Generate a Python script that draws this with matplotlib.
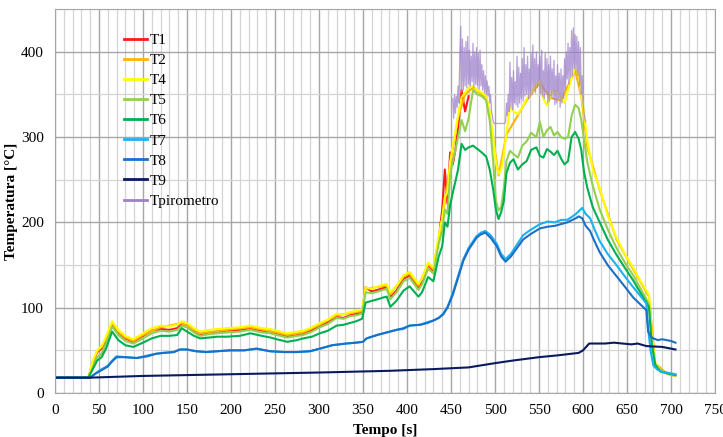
import matplotlib
matplotlib.use("Agg")
import matplotlib.pyplot as plt
from matplotlib.ticker import MultipleLocator

plt.rcParams["font.family"] = ["Liberation Serif", "DejaVu Serif"]

# Shared sampling times [s] for the hot-side thermocouples
t_hot = [0, 38, 43, 48, 53, 58, 65, 72, 80, 89, 100, 110, 120, 130, 139, 144, 150, 158, 165, 175,
         184, 195, 210, 222, 235, 245, 252, 264, 275, 282, 292, 301, 310, 320, 328, 335, 342, 349, 353, 360,
         367, 373, 377, 381, 388, 396, 403, 413, 417, 424, 430, 436, 440, 443, 446, 449, 452, 455, 458, 462,
         466, 470, 475, 480, 485, 490, 494, 498, 501, 504, 507, 510, 513, 517, 521, 526, 531, 536, 541, 547,
         551, 555, 559, 563, 567, 571, 575, 579, 583, 587, 591, 595, 598, 601, 605, 611, 619, 628, 638, 648,
         657, 665, 672, 675, 678, 682, 688, 696, 705]

T4 = [18, 18, 38, 50, 55, 66, 84, 74, 67, 63, 70, 76, 79, 78, 80, 84, 82, 76, 72, 74,
      75, 76, 77, 79, 76, 75, 73, 70, 72, 73, 77, 82, 86, 93, 92, 95, 96, 98, 124, 122,
      125, 127, 128, 118, 125, 138, 142, 128, 134, 153, 147, 185, 205, 230, 235, 270, 290, 306, 325, 347,
      352, 358, 360, 355, 352, 348, 330, 300, 270, 257, 262, 280, 305, 335, 330, 327, 335, 345, 352, 362,
      366, 345, 337, 348, 355, 352, 345, 340, 355, 370, 380, 375, 350, 330, 295, 262, 240, 208, 182, 162,
      147, 132, 120, 115, 66, 36, 26, 23, 21]

T5 = [18, 18, 30, 42, 46, 58, 78, 68, 61, 58, 64, 70, 73, 72, 74, 79, 77, 71, 67, 69,
      70, 71, 72, 74, 71, 70, 68, 65, 67, 68, 72, 77, 81, 88, 87, 90, 91, 93, 118, 117,
      119, 121, 122, 110, 118, 131, 135, 121, 127, 146, 140, 175, 190, 215, 210, 255, 272, 285, 300, 320,
      307, 322, 355, 350, 348, 343, 320, 270, 225, 214, 218, 240, 272, 284, 280, 276, 290, 295, 305, 300,
      318, 300, 308, 312, 302, 306, 300, 298, 300, 325, 338, 334, 320, 298, 270, 243, 215, 192, 170, 152,
      138, 123, 110, 104, 60, 34, 26, 23, 21]

T6 = [18, 18, 28, 38, 42, 52, 72, 62, 56, 54, 59, 64, 67, 67, 68, 76, 72, 67, 64, 65,
      66, 66, 67, 70, 67, 65, 63, 60, 62, 64, 66, 70, 73, 79, 80, 82, 84, 87, 106, 108,
      110, 112, 113, 101, 108, 120, 125, 113, 118, 136, 131, 160, 172, 200, 195, 220, 235, 248, 262, 292,
      285, 288, 290, 286, 282, 277, 262, 238, 215, 204, 212, 225, 258, 270, 274, 262, 268, 272, 285, 288,
      278, 276, 286, 283, 279, 284, 275, 268, 272, 300, 306, 298, 285, 260, 240, 218, 200, 180, 162, 146,
      132, 118, 106, 100, 58, 33, 25, 23, 21]

# T1 stops recording at 470 s
t_t1 = t_hot[:62]
T1 = [18, 18, 36, 48, 52, 62, 80, 71, 64, 60, 67, 73, 75, 74, 76, 81, 79, 73, 68, 71,
      72, 73, 74, 76, 73, 72, 69, 66, 68, 69, 74, 78, 83, 89, 88, 91, 93, 95, 124, 119,
      121, 123, 124, 112, 120, 134, 138, 124, 130, 150, 143, 180, 215, 262, 222, 282, 268, 285, 310, 355,
      330, 348]

t_t2 = [0, 38, 43, 48, 53, 58, 65, 72, 80, 89, 100, 120, 144, 165, 195, 222, 252, 264, 282, 301,
        320, 349, 353, 377, 381, 396, 403, 413, 424, 430, 440, 449, 458, 466, 475, 490, 498, 504, 513, 536,
        551, 563, 575, 591, 598, 605, 619, 638, 657, 672, 675, 682, 696, 705]
T2 = [18, 18, 37, 49, 54, 64, 82, 72, 65, 61, 68, 77, 82, 70, 74, 77, 71, 68, 71, 80,
      91, 96, 122, 126, 116, 136, 140, 126, 151, 145, 203, 268, 323, 350, 358, 346, 298, 255, 303, 343,
      364, 346, 343, 378, 348, 288, 238, 180, 145, 118, 113, 35, 22, 20]

# Cold-side thermocouples
t_cold = [0, 40, 45, 50, 55, 60, 65, 70, 80, 93, 105, 115, 123, 135, 142, 150, 160, 172, 185, 199,
          215, 229, 244, 260, 275, 290, 301, 315, 331, 342, 350, 354, 366, 377, 388, 396, 403, 415, 423, 430,
          436, 441, 446, 452, 458, 464, 470, 479, 484, 489, 495, 502, 507, 512, 518, 525, 532, 540, 551, 560,
          568, 575, 582, 588, 592, 595, 599, 603, 608, 613, 619, 628, 638, 648, 657, 665, 672, 674, 677, 680,
          685, 690, 695, 700, 705]

T7 = [18, 18, 22, 26, 29, 32, 38, 43, 42, 41, 44, 46, 47, 48, 51, 51, 49, 48, 49, 50,
      50, 52, 49, 48, 48, 49, 52, 56, 58, 59, 60, 64, 68, 71, 74, 75, 79, 80, 83, 85,
      88, 93, 101, 117, 137, 157, 170, 184, 188, 190, 185, 175, 163, 157, 163, 174, 185, 191, 198, 201,
      200, 203, 203, 207, 210, 213, 217, 210, 205, 192, 178, 163, 150, 136, 124, 114, 105, 75, 48, 32,
      27, 25, 24, 23, 22]

T8 = [18, 18, 22, 25, 28, 31, 37, 42, 42, 41, 43, 46, 47, 48, 51, 51, 49, 48, 49, 50,
      50, 52, 49, 48, 48, 49, 52, 56, 58, 59, 60, 64, 68, 71, 74, 76, 79, 80, 82, 85,
      88, 92, 100, 115, 135, 155, 168, 182, 186, 188, 182, 172, 160, 154, 160, 170, 180, 186, 193, 195,
      196, 198, 200, 203, 205, 207, 205, 196, 190, 178, 165, 150, 137, 124, 112, 104, 97, 72, 66, 64,
      62, 63, 62, 61, 59]

t_t9 = [0, 40, 100, 200, 300, 380, 430, 470, 500, 520, 550, 570, 595, 600, 607, 615, 625, 635, 645, 655,
        662, 672, 690, 705]
T9 = [18, 18, 20, 22, 24, 26, 28, 30, 35, 38, 42, 44, 47, 50, 58, 58, 58, 59, 58, 57,
      58, 55, 54, 51]

# Pyrometer reading, one sample per second (452 s to 603 s)
t_pyro = list(range(452, 604))
Tpiro = [345, 322, 350, 328, 348, 335, 360, 340, 395,
         430, 352, 415, 355, 405, 360, 412, 358, 418, 362,
         402, 360, 395, 365, 410, 358, 400, 362, 405, 360,
         398, 356, 402, 360, 385, 355, 378, 352, 372, 350,
         366, 348, 360, 340, 350, 330, 325, 318, 316, 316,
         316, 316, 316, 316, 316, 316, 316, 316, 316, 316,
         316, 318, 340, 325, 350, 330, 388, 335, 370, 332,
         378, 340, 365, 338, 395, 335, 382, 340, 375, 345,
         392, 342, 405, 348, 385, 350, 395, 345, 380, 348,
         398, 350, 408, 355, 392, 352, 400, 358, 385, 360,
         395, 350, 402, 348, 378, 345, 398, 350, 392, 340,
         385, 342, 395, 348, 380, 345, 390, 338, 372, 340,
         385, 345, 375, 335, 380, 340, 372, 345, 392, 355,
         400, 368, 410, 362, 405, 370, 425, 372, 428, 380,
         420, 376, 418, 372, 412, 360, 405, 350, 372, 340,
         330, 322, 318]

fig, ax = plt.subplots(figsize=(7.23, 4.37), dpi=100)
fig.subplots_adjust(left=0.076, right=0.989, bottom=0.1007, top=0.979)

lw = 1.5
ax.plot(t_t1, T1, color="#ff1a1a", lw=lw, label="T1")
ax.plot(t_t2, T2, color="#ffb400", lw=lw, label="T2")
ax.plot(t_hot, T4, color="#ffff00", lw=lw, label="T4")
ax.plot(t_hot, T5, color="#92d050", lw=lw, label="T5")
ax.plot(t_hot, T6, color="#00b050", lw=lw, label="T6")
ax.plot(t_cold, T7, color="#1ab2f0", lw=lw, label="T7")
ax.plot(t_cold, T8, color="#1a70c8", lw=lw, label="T8")
ax.plot(t_t9, T9, color="#0a1a5e", lw=lw, label="T9")
ax.plot(t_pyro, Tpiro, color="#9e80cc", lw=0.9, alpha=0.75, label="Tpirometro")

ax.set_xlim(0, 750)
ax.set_ylim(0, 450)
ax.xaxis.set_major_locator(MultipleLocator(50))
ax.xaxis.set_minor_locator(MultipleLocator(10))
ax.yaxis.set_major_locator(MultipleLocator(100))
ax.yaxis.set_minor_locator(MultipleLocator(50))
ax.set_yticks([0, 100, 200, 300, 400])

ax.grid(which="major", color="#a6a6a6", lw=1.0)
ax.grid(which="minor", color="#d4d4d4", lw=0.9)
ax.set_axisbelow(True)
for s in ax.spines.values():
    s.set_color("#a6a6a6")
ax.tick_params(which="both", length=0, labelsize=11, pad=8)

ax.set_xlabel("Tempo [s]", fontsize=11, fontweight="bold", labelpad=5)
ax.set_ylabel("Temperatura [°C]", fontsize=11, fontweight="bold", labelpad=2)

leg = ax.legend(loc="upper left", bbox_to_anchor=(0.105, 0.937), frameon=False,
                fontsize=11, handlelength=1.5, handletextpad=0.2, labelspacing=0.42,
                borderpad=0, borderaxespad=0)
for h in leg.get_lines():
    h.set_linewidth(2.0)
    h.set_alpha(1.0)

fig.savefig("out.png", dpi=100)
